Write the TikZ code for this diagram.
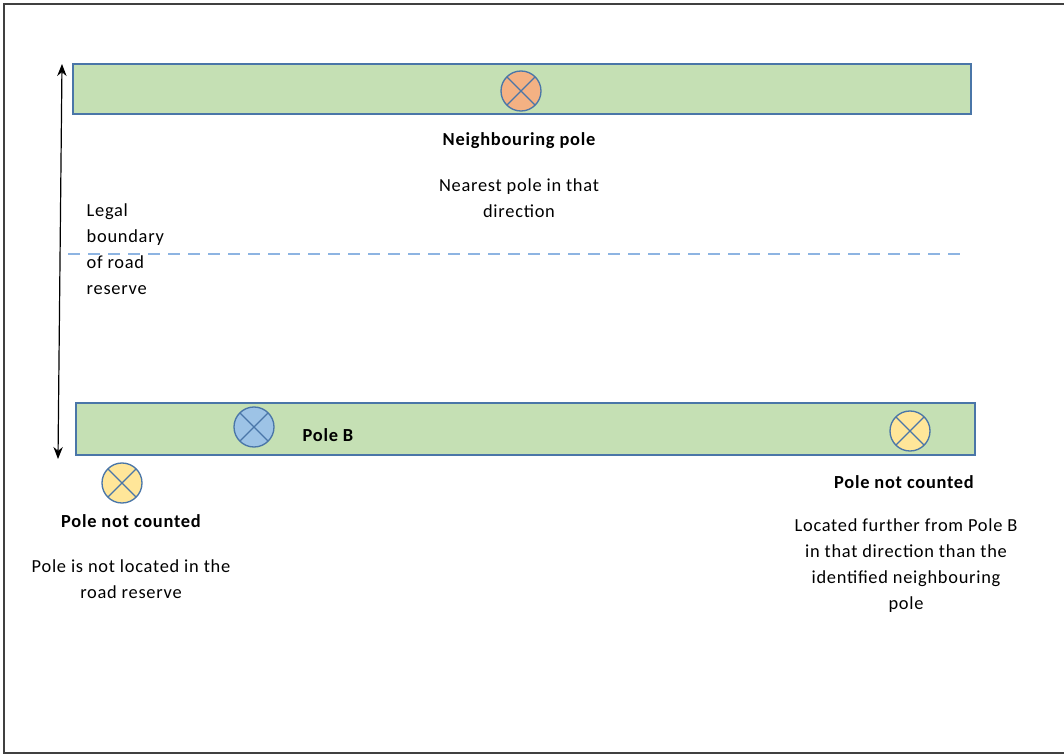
\documentclass[tikz,border=0pt]{standalone}
\usepackage{fontspec}
\setmainfont{Carlito}[LetterSpace=4]
\usetikzlibrary{arrows.meta}

\definecolor{roadgreen}{HTML}{C5E0B4}
\definecolor{roadedge}{HTML}{4A76A8}
\definecolor{poleorange}{HTML}{F4B183}
\definecolor{poleblue}{HTML}{9DC3E6}
\definecolor{poleyellow}{HTML}{FFE699}
\definecolor{dashblue}{HTML}{8DB4E2}

\tikzset{
  road/.style={draw=roadedge, fill=roadgreen, line width=1.2pt},
  pole/.style={circle, draw=roadedge, line width=1pt,
    minimum size=30pt, inner sep=0pt,
    path picture={
      \draw[roadedge, line width=1pt]
        (path picture bounding box.north west) -- (path picture bounding box.south east)
        (path picture bounding box.north east) -- (path picture bounding box.south west);
    }},
  label/.style={align=center, font=\fontsize{13.8}{19.5}\selectfont},
  title/.style={label, font=\fontsize{13.8}{19.5}\selectfont\bfseries}
}

\begin{document}
\begin{tikzpicture}[x=0.75pt, y=-0.75pt]
    \useasboundingbox (0,0) rectangle (1064,756);
    % frame, open at the right
    \draw[line width=1pt, black!75] (1070,4) -- (4,4) -- (4,753) -- (1070,753);

    % the two road strips
    \draw[road] (73,64) rectangle (971,114);
    \draw[road] (76,403) rectangle (975,455);

    % road reserve extent
    \coordinate (reservetop) at (62,64);
    \coordinate (reservebot) at (58,459);
    \draw[{Stealth[length=9pt,width=7pt]}-{Stealth[length=9pt,width=7pt]}, line width=0.9pt]
        (reservetop) -- (reservebot);
    \coordinate (dashstart) at (68,254);
    \coordinate (dashend) at (962,254);
    \draw[dashblue, line width=1pt, dash pattern=on 9pt off 6pt] (dashstart) -- (dashend);
    \node[label, align=left, anchor=north west] (legal) at (82,199)
        {Legal\\boundary\\of road\\reserve};

    % poles
    \node[pole, fill=poleorange] (neighbour) at (521,91) {};
    \node[pole, fill=poleblue] (poleb) at (254,427) {};
    \node[pole, fill=poleyellow] (farpole) at (910,431) {};
    \node[pole, fill=poleyellow] (outpole) at (122,483) {};

    % labels
    \node[title] (neighbourname) at (519,141) {Neighbouring pole};
    \node[label] (neighbourtext) at (519,198) {Nearest pole in that\\direction};
    \node[title] (polebname) at (328,435) {Pole B};
    \node[title] (outname) at (131,521) {Pole not counted};
    \node[label] (outtext) at (131,579) {Pole is not located in the\\road reserve};
    \node[title] (farname) at (904,482) {Pole not counted};
    \node[label] (fartext) at (906,566)
        {Located further from Pole B\\in that direction than the\\identified neighbouring\\pole};
\end{tikzpicture}
\end{document}
